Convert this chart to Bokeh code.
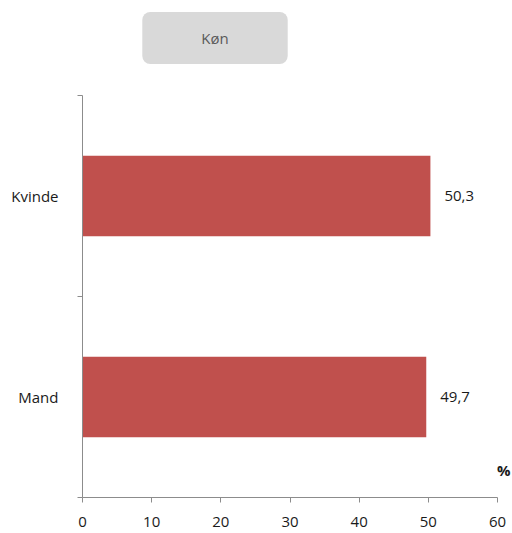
from bokeh.plotting import figure
from bokeh.models import ColumnDataSource, Range1d, FixedTicker, Label
from bokeh.embed import file_html
from bokeh.resources import INLINE
from bokeh.core.properties import value

categories = ["Mand", "Kvinde"]
values = [49.7, 50.3]
x_ticks = [0, 10, 20, 30, 40, 50, 60]
title_text = "Køn"
unit_text = "%"

FONT = "Open Sans"
W, H = 512, 533
L, B = 82, 36          # frame left / bottom borders
AX_RIGHT, AX_TOP = 497, 95  # pixel ends of the visible axes
X_MAX = 60
N = len(categories)

# frame spans to the right and top edges so the title box and "%" are not clipped
x_end = X_MAX * (W - L) / (AX_RIGHT - L)
y_end = N * (H - B) / (H - B - AX_TOP)

ypos = [i + 0.5 for i in range(N)]
labels = [f"{v:.1f}".replace(".", ",") for v in values]
src = ColumnDataSource(dict(y=ypos, v=values, lab=labels))

p = figure(width=W, height=H, output_backend="svg", toolbar_location=None,
           x_range=Range1d(0, x_end), y_range=Range1d(0, y_end),
           min_border_left=L, min_border_right=0, min_border_top=0,
           min_border_bottom=B)
p.outline_line_color = None
p.xgrid.visible = False
p.ygrid.visible = False
p.background_fill_color = "white"
p.border_fill_color = "white"

p.hbar(y="y", right="v", left=0, height=0.4, source=src,
       fill_color="#c0504d", line_color=None)
p.text(x="v", y="y", text="lab", source=src, x_offset=14,
       text_align="left", text_baseline="middle",
       text_font=value(FONT), text_font_size="15px", text_color="#1a1a1a")

AX = "#8c8c8c"
xa = p.xaxis[0]
xa.ticker = FixedTicker(ticks=x_ticks)
xa.bounds = (0, X_MAX)
xa.axis_line_color = AX
xa.major_tick_line_color = AX
xa.major_tick_out = 5
xa.major_tick_in = 0
xa.minor_tick_line_color = None
xa.major_label_text_font = FONT
xa.major_label_text_font_size = "15px"
xa.major_label_text_color = "#1a1a1a"
xa.major_label_standoff = 14

ya = p.yaxis[0]
ya.ticker = FixedTicker(ticks=ypos, minor_ticks=list(range(N + 1)))
ya.bounds = (0, N)
ya.major_label_overrides = {y: c for y, c in zip(ypos, categories)}
ya.axis_line_color = AX
ya.major_tick_line_color = None
ya.minor_tick_line_color = AX
ya.minor_tick_out = 5
ya.minor_tick_in = 0
ya.major_label_text_font = FONT
ya.major_label_text_font_size = "15px"
ya.major_label_text_color = "#1a1a1a"
ya.major_label_standoff = 18

# screen units here are measured from the frame's bottom-left corner
fb = H - B
title = Label(x=214.5 - L, y=fb - 37.5, x_units="screen", y_units="screen",
              text=title_text, text_align="center", text_baseline="middle",
              text_font=FONT, text_font_size="15px", text_color="#595959",
              background_fill_color="#d9d9d9", border_line_color=None,
              border_radius=8, padding=dict(left=59, right=59, top=16, bottom=16))
p.add_layout(title)

unit = Label(x=W - 2 - L, y=fb - 469, x_units="screen", y_units="screen",
             text=unit_text, text_align="right", text_baseline="middle",
             text_font=FONT, text_font_size="15px", text_font_style="bold",
             text_color="#1a1a1a")
p.add_layout(unit)

html = file_html(p, INLINE)
html = html.replace("<head>", "<head><style>html,body{overflow:hidden;}</style>", 1)
open("out.html", "w").write(html)
